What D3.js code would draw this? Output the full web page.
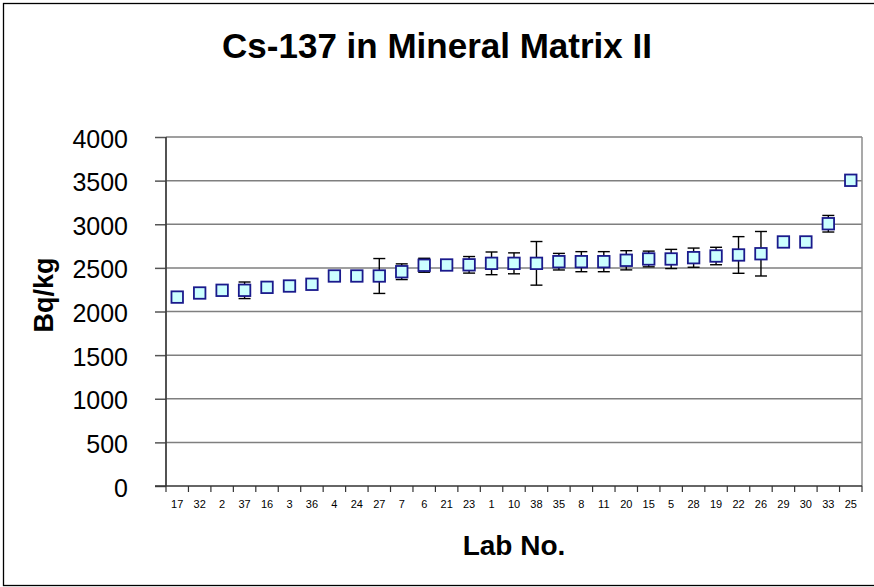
<!DOCTYPE html>
<html>
<head>
<meta charset="utf-8">
<script src="https://cdn.jsdelivr.net/npm/d3@7"></script>
<style>
  body { margin: 0; background: #fff; }
  svg { display: block; font-family: Arial, "Liberation Sans", sans-serif; }
</style>
</head>
<body>
<div id="chart"></div>
<script>
// lab numbers in plotted order
var labs = ["17","32","2","37","16","3","36","4","24","27","7","6","21","23","1",
            "10","38","35","8","11","20","15","5","28","19","22","26","29","30","33","25"];
// reported activity, Bq/kg
var values = [2165,2212,2243,2243,2277,2292,2312,2407,2407,2407,2456,2530,2533,2535,2552,
              2552,2552,2571,2571,2571,2587,2602,2602,2617,2636,2648,2662,2797,2797,3006,3504];
// reported uncertainty (+/-), 0 = none shown
var uncert = [0,0,0,95,0,0,0,0,0,200,90,80,0,95,130,
              120,250,95,115,115,110,90,110,110,100,210,255,0,0,95,0];
var yTicks = [0,500,1000,1500,2000,2500,3000,3500,4000];

var width = 874, height = 587;
// plot area edges (note: "top" is taken by window.top)
var pLeft = 166, pRight = 862, pTop = 137, pBottom = 486;

var svg = d3.select("#chart").append("svg")
    .attr("width", width)
    .attr("height", height);

// outer chart frame
svg.append("rect")
    .attr("x", 3.5).attr("y", 3.5)
    .attr("width", 880).attr("height", 582)
    .attr("fill", "#fff")
    .attr("stroke", "#000")
    .attr("stroke-width", 1.3);

var x = d3.scaleBand().domain(labs).range([pLeft, pRight]).padding(0);
var y = d3.scaleLinear().domain([0, 4000]).range([pBottom, pTop]);

// y axis ticks + labels
var yAxis = svg.append("g")
    .attr("transform", "translate(" + pLeft + ",0)")
    .call(d3.axisLeft(y).tickValues(yTicks).tickFormat(d3.format("d"))
            .tickSize(11).tickPadding(27));
yAxis.select(".domain").remove();
yAxis.selectAll(".tick line").attr("stroke", "#555").attr("stroke-width", 1.5);
yAxis.selectAll(".tick text")
    .attr("font-size", 25)
    .attr("fill", "#000")
    .attr("dy", "0.4em")
    .attr("font-family", "Arial, 'Liberation Sans', sans-serif");

// gridlines
svg.append("g").selectAll("line.grid")
    .data(yTicks.filter(function(d) { return d > 0; }))
    .enter().append("line")
    .attr("class", "grid")
    .attr("x1", pLeft).attr("x2", pRight)
    .attr("y1", function(d) { return y(d); })
    .attr("y2", function(d) { return y(d); })
    .attr("stroke", "#7f7f7f")
    .attr("stroke-width", 1.5);

// right edge of plot area
svg.append("line")
    .attr("x1", pRight).attr("x2", pRight)
    .attr("y1", pTop).attr("y2", pBottom)
    .attr("stroke", "#8c8c8c")
    .attr("stroke-width", 1.5);

// left axis line
svg.append("line")
    .attr("x1", pLeft).attr("x2", pLeft)
    .attr("y1", pTop).attr("y2", pBottom)
    .attr("stroke", "#404040")
    .attr("stroke-width", 1.8);

// x axis: ticks between categories
var xAxis = svg.append("g")
    .attr("transform", "translate(0," + pBottom + ")");
xAxis.append("line")
    .attr("x1", pLeft - 11).attr("x2", pRight)
    .attr("stroke", "#333").attr("stroke-width", 1.5);
xAxis.selectAll("line.tk")
    .data(labs.concat([null]))
    .enter().append("line")
    .attr("class", "tk")
    .attr("x1", function(d, i) { return pLeft + i * x.bandwidth(); })
    .attr("x2", function(d, i) { return pLeft + i * x.bandwidth(); })
    .attr("y1", 0).attr("y2", 6)
    .attr("stroke", "#333").attr("stroke-width", 1.2);
xAxis.selectAll("text")
    .data(labs)
    .enter().append("text")
    .attr("x", function(d) { return x(d) + x.bandwidth() / 2; })
    .attr("y", 22)
    .attr("text-anchor", "middle")
    .attr("font-size", 11)
    .text(function(d) { return d; });

// error bars
var eb = svg.append("g").selectAll("g")
    .data(labs.map(function(d, i) { return {lab: d, v: values[i], e: uncert[i]}; })
              .filter(function(d) { return d.e > 0; }))
    .enter().append("g")
    .attr("stroke", "#000")
    .attr("stroke-width", 1.4);
eb.append("line")
    .attr("x1", function(d) { return x(d.lab) + x.bandwidth() / 2; })
    .attr("x2", function(d) { return x(d.lab) + x.bandwidth() / 2; })
    .attr("y1", function(d) { return y(d.v + d.e); })
    .attr("y2", function(d) { return y(d.v - d.e); });
eb.selectAll("line.cap")
    .data(function(d) { return [[d, d.v + d.e], [d, d.v - d.e]]; })
    .enter().append("line")
    .attr("class", "cap")
    .attr("x1", function(p) { return x(p[0].lab) + x.bandwidth() / 2 - 6; })
    .attr("x2", function(p) { return x(p[0].lab) + x.bandwidth() / 2 + 6; })
    .attr("y1", function(p) { return y(p[1]); })
    .attr("y2", function(p) { return y(p[1]); });

// square markers
var sz = 11.5;
svg.append("g").selectAll("rect")
    .data(values)
    .enter().append("rect")
    .attr("x", function(d, i) { return x(labs[i]) + x.bandwidth() / 2 - sz / 2; })
    .attr("y", function(d) { return y(d) - sz / 2; })
    .attr("width", sz).attr("height", sz)
    .attr("fill", "#ccffff")
    .attr("stroke", "#1a1a8c")
    .attr("stroke-width", 1.8);

// titles
svg.append("text")
    .attr("x", 437).attr("y", 58)
    .attr("text-anchor", "middle")
    .attr("font-size", 35)
    .attr("font-weight", "bold")
    .text("Cs-137 in Mineral Matrix II");

svg.append("text")
    .attr("x", (pLeft + pRight) / 2).attr("y", 555)
    .attr("text-anchor", "middle")
    .attr("font-size", 28)
    .attr("font-weight", "bold")
    .text("Lab No.");

svg.append("text")
    .attr("transform", "translate(53,295) rotate(-90)")
    .attr("text-anchor", "middle")
    .attr("font-size", 27)
    .attr("font-weight", "bold")
    .text("Bq/kg");
</script>
</body>
</html>
